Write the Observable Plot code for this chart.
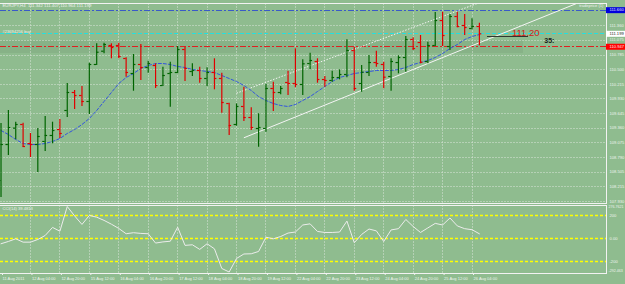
<!DOCTYPE html>
<html><head><meta charset="utf-8">
<script src="https://cdn.jsdelivr.net/npm/d3@7"></script>
<script src="https://cdn.jsdelivr.net/npm/@observablehq/plot@0.6"></script>
<style>
html,body{margin:0;padding:0;background:#8fbc8f;}
#chart{position:relative;width:625px;height:284px;overflow:hidden;background:#8fbc8f;}
#chart svg{position:absolute;left:0;}
</style></head><body><div id="chart"></div>
<script>
// ---- data ----
const symbol = "EURJPY,H4";
const opens = [108.339,109.041,109.360,109.431,109.061,109.041,109.100,109.217,109.333,109.704,
110.055,109.996,109.880,110.601,110.860,110.971,110.971,110.718,110.425,110.601,
110.542,110.581,110.191,110.425,110.445,110.893,110.464,110.484,110.328,110.445,
110.328,109.840,109.431,109.782,109.567,109.353,109.353,110.133,110.055,110.250,
110.230,110.211,110.620,110.659,110.308,110.289,110.347,110.406,110.873,110.230,
110.445,110.639,110.601,110.367,110.639,110.737,111.088,111.029,110.659,110.971,
111.458,110.951,111.536,111.361,111.302,111.342];
const highs = [109.450,109.704,109.476,109.456,109.256,109.353,109.587,109.476,109.528,110.230,
110.094,110.172,110.626,111.004,111.016,111.004,111.016,110.731,110.796,110.990,
110.665,110.614,110.548,110.645,110.951,110.938,110.614,110.548,110.536,110.712,
110.431,109.846,109.834,110.158,109.757,109.640,110.211,110.256,110.172,110.470,
110.907,110.692,110.821,110.712,110.367,110.470,110.497,111.082,110.938,110.581,
110.776,110.860,110.645,110.712,110.770,111.146,111.121,111.166,111.035,111.614,
111.620,111.575,111.620,111.575,111.491,111.407];
const lows = [108.008,108.827,109.133,108.988,108.788,108.495,108.905,109.055,109.158,109.567,
109.723,109.782,109.626,110.581,110.809,110.712,110.712,110.353,110.080,110.289,
110.431,110.133,110.172,109.768,110.419,110.269,110.367,110.236,110.172,110.107,
109.651,109.217,109.398,109.489,109.314,108.988,109.281,109.684,110.010,109.996,
110.146,109.996,110.497,110.236,110.158,110.256,110.302,110.341,110.080,110.061,
110.367,110.548,110.127,110.080,110.419,110.450,110.873,110.614,110.614,110.951,
110.951,110.873,111.316,111.166,111.277,110.964];
const closes = [109.041,109.372,109.431,109.002,109.041,109.197,109.217,109.314,109.256,110.055,
109.996,109.880,110.601,110.840,110.990,110.932,110.757,110.445,110.601,110.542,
110.620,110.191,110.386,110.445,110.893,110.523,110.484,110.328,110.445,110.328,
109.860,109.411,109.782,109.567,109.372,109.372,110.133,110.055,110.133,110.230,
110.211,110.614,110.679,110.308,110.289,110.347,110.406,110.873,110.133,110.450,
110.639,110.620,110.353,110.659,110.737,111.088,110.912,110.645,110.971,111.458,
111.166,111.536,111.341,111.322,111.342,111.199];
const maValues = [109.314,109.236,109.139,109.061,109.041,109.041,109.061,109.100,109.158,109.256,
109.333,109.431,109.548,109.704,109.880,110.055,110.230,110.347,110.425,110.523,
110.581,110.620,110.620,110.601,110.562,110.542,110.503,110.484,110.464,110.445,
110.386,110.328,110.269,110.191,110.094,109.976,109.899,109.840,109.801,109.782,
109.821,109.899,109.976,110.074,110.172,110.269,110.347,110.386,110.425,110.445,
110.464,110.484,110.484,110.484,110.503,110.542,110.601,110.639,110.679,110.737,
110.815,110.912,110.990,111.088,111.146,111.185];
const cciValues = [-47,-27,-4,-33,-33,-10,25,95,62,276.7621,
195,121,199,184,156,123,86,40,49,43,
40,-41,-31,-25,97,-61,-56,-96,-47,-91,
-262,-292.463,-175,-136,-134,-114,10,-4,16,46,
55,116,126,60,51,51,55,150,-38,34,
81,65,-27,73,84,164,103,51,91,130,
116,177,108,84,75,39.4813];
const cciName = "CCI(14)";
const cciMin = -292.463, cciMax = 276.7621;
const cciLevels = [200, 0, -200];
const cciLevelLabels = ["200", "0.00", "-200"];
const timeLabels = ["11 Aug 2011","12 Aug 04:00","12 Aug 20:00","15 Aug 12:00","16 Aug 04:00",
"16 Aug 20:00","17 Aug 12:00","18 Aug 04:00","18 Aug 20:00","19 Aug 12:00","22 Aug 04:00",
"22 Aug 20:00","23 Aug 12:00","24 Aug 04:00","24 Aug 20:00","25 Aug 12:00","26 Aug 04:00"];
const labelBars = [0,4,8,12,16,20,24,28,32,36,40,44,48,52,56,60,64];
const priceTicks = [111.360,111.075,110.785,110.500,110.215,109.930,109.645,109.360,109.075,108.790,108.505,108.215,107.930];
const tpLevel = 111.660, orderLevel = 111.199, slLevel = 110.947;
const orderText = "#23694256 buy";
const trendSolid = [{i1:33.0, p1:109.172, i2:78.2, p2:111.790}];
const trendDotted = [{i1:32.0, p1:110.041, i2:64.7, p2:111.790}];
const bandRect = [{i1:-0.07, i2:71.0, p1:110.815, p2:111.068}];
const tradeLine = [{i1:66.1, i2:71.7, p:111.156}];
const tradeText = [{i:71.3, p:111.22, t:"111.20"}];
const countText = [{i:74.5, p:111.07, t:"35:"}];

// ---- layout ----
const X0 = -0.07, X1 = 82.27;
const P0 = 107.891, P1 = 111.790;
const UP = "#006400", DOWN = "#e00000";
const TXT = "#eef3ee", GRID = "#d6e2d6", FRAME = "#f2f2f2";
const CRISP = "crispEdges";
const bars = opens.map((o, i) => ({i, o, h: highs[i], l: lows[i], c: closes[i]}));
const col = d => d.c >= d.o ? UP : DOWN;
const fmt = d3.format(".3f");
const baseStyle = {background: "transparent", fontFamily: "'Liberation Sans', Arial, sans-serif", fontSize: "4.1px", color: TXT, overflow: "visible"};
const common = {width: 625, marginLeft: 0, marginRight: 19, x: {domain: [X0, X1], axis: null}, style: baseStyle};

const mainPlot = Plot.plot({
  ...common, height: 204, marginTop: 3, marginBottom: 1,
  y: {domain: [P0, P1], axis: null},
  marks: [
    Plot.rect(bandRect, {x1: "i1", x2: "i2", y1: "p1", y2: "p2", fill: "#000", fillOpacity: 0.05}),
    Plot.ruleY(priceTicks, {stroke: GRID, strokeDasharray: "1.5,1.5", strokeOpacity: 0.55, shapeRendering: CRISP}),
    Plot.ruleX(labelBars.slice(1), {stroke: GRID, strokeDasharray: "1.5,1.5", strokeOpacity: 0.55, shapeRendering: CRISP}),
    Plot.ruleY([tpLevel], {stroke: "#3a5ac8", strokeDasharray: "6,2,2,2", strokeWidth: 1, shapeRendering: CRISP}),
    Plot.ruleY([orderLevel], {stroke: "#22e0e0", strokeDasharray: "4,2", strokeWidth: 1, shapeRendering: CRISP}),
    Plot.ruleY([slLevel], {stroke: "#e02020", strokeDasharray: "6,2,2,2", strokeWidth: 1, shapeRendering: CRISP}),
    Plot.link(trendSolid, {x1: "i1", y1: "p1", x2: "i2", y2: "p2", stroke: "#f4f4f4", strokeWidth: 1, clip: true}),
    Plot.link(trendDotted, {x1: "i1", y1: "p1", x2: "i2", y2: "p2", stroke: "#f4f4f4", strokeWidth: 1, strokeDasharray: "1.5,1.5", clip: true}),
    Plot.line(maValues, {x: (d, i) => i, y: d => d, stroke: "#3355dd", strokeWidth: 1, strokeDasharray: "3,2"}),
    Plot.ruleX(bars, {x: "i", y1: "l", y2: "h", stroke: col, strokeWidth: 1.2}),
    Plot.ruleY(bars, {y: "o", x1: d => d.i - 0.33, x2: "i", stroke: col, strokeWidth: 1.2}),
    Plot.ruleY(bars, {y: "c", x1: "i", x2: d => d.i + 0.33, stroke: col, strokeWidth: 1.2}),
    Plot.ruleY(tradeLine, {y: "p", x1: "i1", x2: "i2", stroke: "#303830", strokeWidth: 1, shapeRendering: CRISP}),
    Plot.text(tradeText, {x: "i", y: "p", text: "t", fill: "#d02020", fontSize: 9.5}),
    Plot.text(countText, {x: "i", y: "p", text: "t", fill: "#1a1a1a", fontSize: 7, fontWeight: "bold"}),
    Plot.frame({stroke: FRAME, insetLeft: -3, shapeRendering: CRISP}),
    // right price scale
    Plot.text(priceTicks, {x: X1, y: d => d, text: fmt, textAnchor: "start", dx: 3, fill: TXT}),
    Plot.ruleY([tpLevel], {x1: X1, x2: X1 + 2.6, stroke: "#0000dd", strokeWidth: 6}),
    Plot.text([tpLevel], {x: X1, y: d => d, text: fmt, textAnchor: "start", dx: 3, fill: "#e8e8ff"}),
    Plot.ruleY([orderLevel], {x1: X1, x2: X1 + 2.6, stroke: "#ffffff", strokeWidth: 6}),
    Plot.text([orderLevel], {x: X1, y: d => d, text: fmt, textAnchor: "start", dx: 3, fill: "#202020"}),
    Plot.ruleY([slLevel], {x1: X1, x2: X1 + 2.6, stroke: "#ff0000", strokeWidth: 6}),
    Plot.text([slLevel], {x: X1, y: d => d, text: fmt, textAnchor: "start", dx: 3, fill: "#ffe8e8"}),
    // labels
    Plot.text([`${symbol}  ${fmt(opens[65])} ${fmt(highs[65])} ${fmt(lows[65])} ${fmt(closes[65])}`], {frameAnchor: "top-left", dx: 2, dy: 0.5, fill: TXT, fontSize: 4.3}),
    Plot.text([orderText], {x: X0, y: orderLevel, textAnchor: "start", lineAnchor: "bottom", dx: 2, dy: -0.5, fill: TXT}),
    Plot.text(["tradeprice (1)"], {frameAnchor: "top-right", dx: -3, dy: 0.5, fill: TXT})
  ]
});
mainPlot.style.top = "0px";

const cciPlot = Plot.plot({
  ...common, height: 80, marginTop: 1, marginBottom: 11,
  y: {domain: [cciMin, cciMax], axis: null, insetTop: 1, insetBottom: 1.5},
  marks: [
    Plot.ruleX(labelBars.slice(1), {stroke: GRID, strokeDasharray: "1.5,1.5", strokeOpacity: 0.55, shapeRendering: CRISP}),
    Plot.ruleY(cciLevels, {stroke: "#ffff00", strokeDasharray: "3,2", strokeWidth: 1.3, dy: 0.15}),
    Plot.line(cciValues, {x: (d, i) => i, y: d => d, stroke: "#ececec", strokeWidth: 1}),
    Plot.frame({stroke: FRAME, insetLeft: -3, shapeRendering: CRISP}),
    Plot.text([`${cciName} ${cciValues[cciValues.length - 1]}`], {frameAnchor: "top-left", dx: 2, dy: 2, fill: TXT}),
    Plot.text(cciLevels, {x: X1, y: d => d, text: (d, i) => cciLevelLabels[i], textAnchor: "start", dx: 3, fill: TXT}),
    Plot.text([cciMax], {x: X1, y: d => d, text: d => String(d), textAnchor: "start", dx: 2, dy: 0.7, fill: TXT, fontSize: 3.6}),
    Plot.text([cciMin], {x: X1, y: d => d, text: d => String(d), textAnchor: "start", dx: 2, dy: -0.8, fill: TXT, fontSize: 3.6}),
    Plot.axisX(labelBars, {anchor: "bottom", tickSize: 2, tickPadding: 1.5, textAnchor: "start", dx: 1.5, stroke: FRAME,
      tickFormat: d => timeLabels[labelBars.indexOf(d)], fill: TXT, fontSize: 4})
  ]
});
cciPlot.style.top = "204px";

const root = document.getElementById("chart");
root.appendChild(mainPlot);
root.appendChild(cciPlot);
</script></body></html>
